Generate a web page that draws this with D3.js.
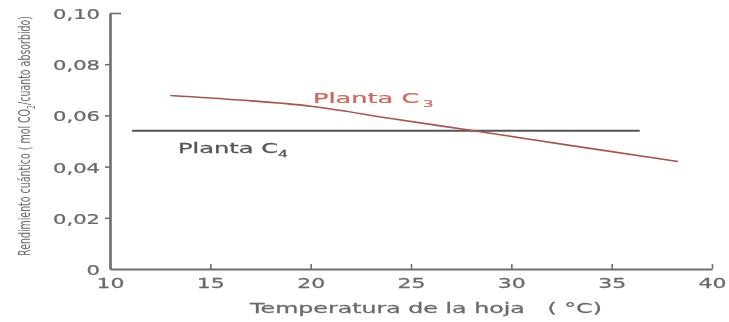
<!DOCTYPE html>
<html>
<head>
<meta charset="utf-8">
<script src="https://cdn.jsdelivr.net/npm/d3@7"></script>
<style>
  html, body { margin: 0; padding: 0; background: #fff; }
  svg { display: block; filter: blur(0.35px); }
  text { font-family: "DejaVu Sans", "Liberation Sans", Arial, sans-serif; }
</style>
</head>
<body>
<svg id="chart" width="729" height="322"></svg>
<script>
// Quantum yield vs leaf temperature for C3 and C4 plants
const xTicks = [10, 15, 20, 25, 30, 35, 40];
const yTicks = [0, 0.02, 0.04, 0.06, 0.08, 0.10];
const yTickLabels = ["0", "0,02", "0,04", "0,06", "0,08", "0,10"];

const c3Temp = [13, 16.5, 20, 24, 28.3, 33, 38.3];
const c3Yield = [0.0678, 0.0660, 0.0636, 0.0588, 0.0538, 0.0482, 0.0420];

const c4Temp = [11.1, 36.4];
const c4Yield = [0.0540, 0.0540];

const svg = d3.select("#chart");
const x = d3.scaleLinear().domain([10, 40]).range([110, 712]);
const y = d3.scaleLinear().domain([0, 0.10]).range([269, 13]);

const axisColor = "#6e6e6e";
const textColor = "#6a6a6a";

// widen a text element horizontally about its anchor point
function widen(sel, sx) {
  sel.each(function () {
    const t = d3.select(this);
    const x0 = +t.attr("x") || 0;
    const y0 = +t.attr("y") || 0;
    t.attr("x", 0).attr("y", 0)
      .attr("transform", `translate(${x0},${y0}) scale(${sx},1)`);
  });
}
// factor that brings a text node to a given drawn width
function factorFor(node, width) {
  return width / node.getComputedTextLength();
}
// slightly heavier lettering
function heavy(sel, color) {
  sel.attr("stroke", color).attr("stroke-width", 0.25).attr("paint-order", "stroke");
}

// Y axis: ticks point outward to the left, top tick turns to the right
const yAxis = svg.append("g").attr("transform", `translate(${x(10)},0)`)
  .call(d3.axisLeft(y).tickValues(yTicks).tickSize(5).tickSizeOuter(0)
    .tickFormat((d, i) => yTickLabels[i]).tickPadding(3));
yAxis.select(".domain").attr("stroke", axisColor).attr("stroke-width", 2.6);
yAxis.selectAll(".tick line")
  .attr("stroke", axisColor).attr("stroke-width", 1.6)
  .attr("x2", d => d === 0.10 ? 11 : (d === 0 ? 0 : -5));
const yText = yAxis.selectAll(".tick text")
  .attr("fill", textColor).attr("font-size", 13.5).attr("dy", null)
  .attr("y", 5.5).attr("x", -10);
const yFactor = factorFor(yText.filter(d => d === 0.10).node(), 47);
widen(yText, yFactor);
heavy(yText, textColor);

// X axis: short ticks pointing up into the plot
const xAxis = svg.append("g").attr("transform", `translate(0,${y(0)})`)
  .call(d3.axisBottom(x).tickValues(xTicks).tickSizeInner(-5).tickSizeOuter(0));
xAxis.select(".domain").attr("stroke", axisColor).attr("stroke-width", 2);
xAxis.selectAll(".tick line").attr("stroke", axisColor).attr("stroke-width", 1.6);
const xText = xAxis.selectAll(".tick text")
  .attr("fill", textColor).attr("font-size", 13.5).attr("dy", null)
  .attr("y", 19).attr("x", 0);
widen(xText, factorFor(xText.filter(d => d === 40).node(), 28));
heavy(xText, textColor);

// Axis titles
const xTitle = svg.append("text")
  .attr("x", 426).attr("y", 313)
  .attr("text-anchor", "middle")
  .attr("fill", textColor).attr("font-size", 14)
  .attr("xml:space", "preserve")
  .text("Temperatura de la hoja   ( °C)");
widen(xTitle, factorFor(xTitle.node(), 352));
heavy(xTitle, textColor);

const yTitle = svg.append("text")
  .attr("transform", `translate(30,136) scale(${yFactor},1) rotate(-90)`)
  .attr("text-anchor", "middle")
  .attr("fill", textColor).attr("font-size", 10.5)
  .attr("textLength", 240).attr("lengthAdjust", "spacingAndGlyphs");
yTitle.append("tspan").text("Rendimiento cuántico  ( mol CO");
yTitle.append("tspan").attr("font-size", 7).attr("dy", 3).text("2");
yTitle.append("tspan").attr("dy", -3).text("/cuanto absorbido)");

// Lines
const line = d3.line().x(d => x(d[0])).y(d => y(d[1])).curve(d3.curveMonotoneX);

svg.append("path")
  .datum(c4Temp.map((t, i) => [t, c4Yield[i]]))
  .attr("d", line)
  .attr("fill", "none").attr("stroke", "#555").attr("stroke-width", 2);

svg.append("path")
  .datum(c3Temp.map((t, i) => [t, c3Yield[i]]))
  .attr("d", line)
  .attr("fill", "none").attr("stroke", "#a85248").attr("stroke-width", 1.6);

// Series labels
const c3Label = svg.append("text")
  .attr("x", 313).attr("y", 103)
  .attr("fill", "#d2685c").attr("font-size", 14);
c3Label.append("tspan").text("Planta C");
c3Label.append("tspan").attr("font-size", 9).attr("dy", 3.5).attr("dx", 2).text("3");
widen(c3Label, factorFor(c3Label.node(), 117));
heavy(c3Label, "#d2685c");

const c4Label = svg.append("text")
  .attr("x", 178).attr("y", 153)
  .attr("fill", "#555").attr("font-size", 14);
c4Label.append("tspan").text("Planta C");
c4Label.append("tspan").attr("font-size", 9).attr("dy", 3.5).text("4");
widen(c4Label, factorFor(c4Label.node(), 110));
heavy(c4Label, "#555");
</script>
</body>
</html>
